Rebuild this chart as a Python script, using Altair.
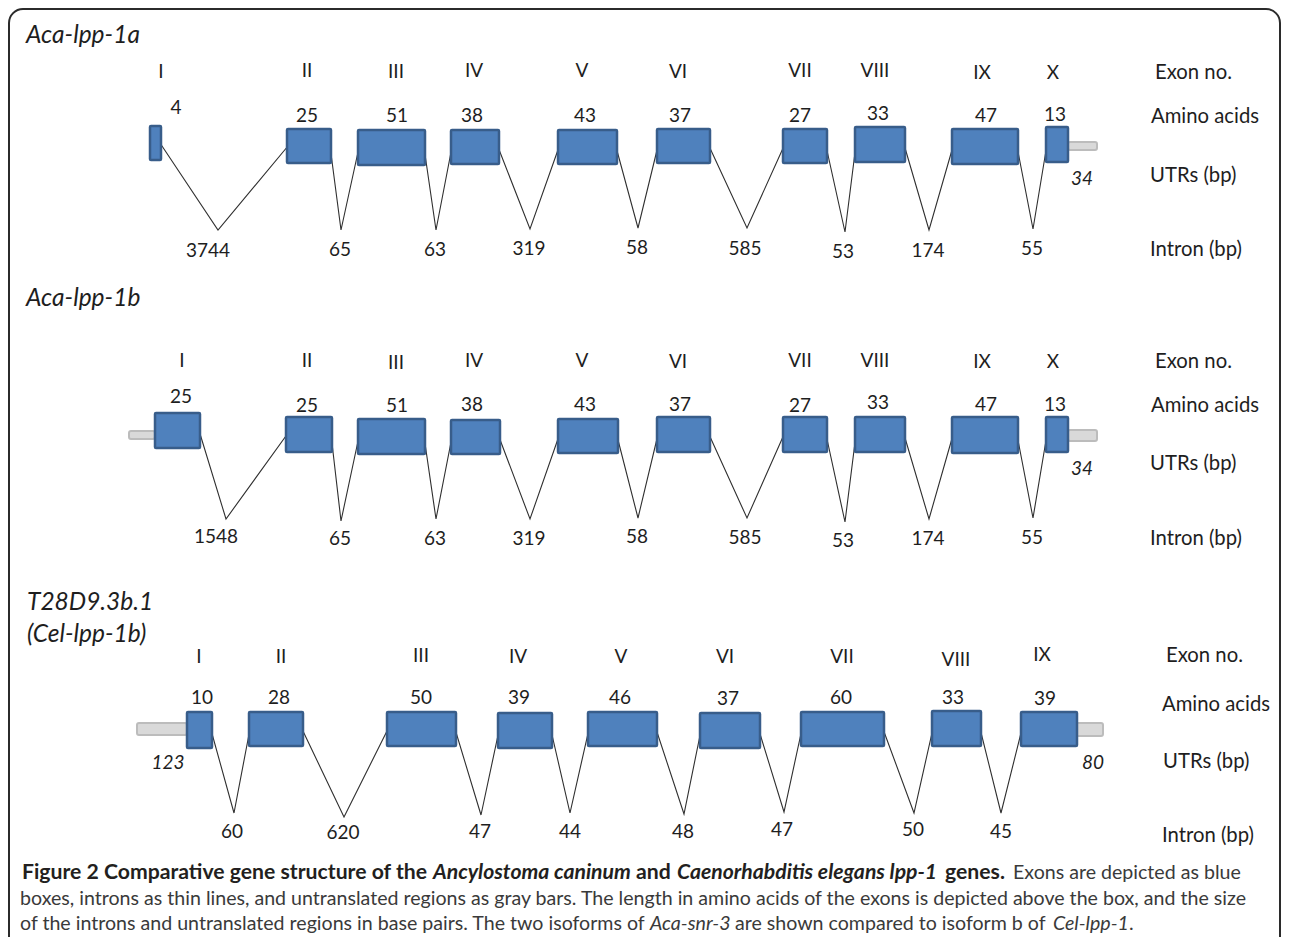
import altair as alt
import pandas as pd

# ---------------- data (diagram coordinates) ----------------
roman = ["I", "II", "III", "IV", "V", "VI", "VII", "VIII", "IX", "X"]

# Panel 1 : Aca-lpp-1a
p1_x0 = [150, 287, 358, 451, 558, 657, 783, 855, 952, 1046]
p1_x1 = [161, 331, 425, 499, 617, 710, 827, 905, 1018, 1068]
p1_y0 = [126, 129, 130, 130, 130, 129, 129, 127, 129, 127]
p1_y1 = [160, 163, 165, 164, 164, 163, 163, 162, 164, 162]
p1_aa = ["4", "25", "51", "38", "43", "37", "27", "33", "47", "13"]
p1_aa_x = [176, 307, 397, 472, 585, 680, 800, 878, 986, 1055]
p1_aa_y = [108, 116, 116, 116, 116, 116, 116, 114, 116, 115]
p1_num_x = [161, 307, 396, 474, 582, 678, 800, 875, 982, 1053]
p1_num_y = [72, 71, 72, 71, 71, 72, 71, 71, 73, 73]
p1_intron = ["3744", "65", "63", "319", "58", "585", "53", "174", "55"]
p1_vx = [218, 341, 436, 530, 638, 747, 845, 929, 1033]
p1_vy = [230, 230, 230, 229, 228, 228, 232, 230, 229]
p1_lx = [208, 340, 435, 529, 637, 745, 843, 928, 1032]
p1_ly = [251, 250, 250, 249, 248, 249, 252, 251, 249]

# Panel 2 : Aca-lpp-1b
p2_x0 = [155, 286, 358, 451, 558, 657, 783, 855, 952, 1046]
p2_x1 = [200, 332, 425, 500, 618, 710, 827, 905, 1018, 1068]
p2_y0 = [413, 417, 419, 420, 419, 417, 417, 417, 417, 417]
p2_y1 = [448, 452, 454, 454, 453, 452, 452, 452, 453, 452]
p2_aa = ["25", "25", "51", "38", "43", "37", "27", "33", "47", "13"]
p2_aa_x = [181, 307, 397, 472, 585, 680, 800, 878, 986, 1055]
p2_aa_y = [397, 406, 406, 405, 405, 405, 406, 403, 405, 405]
p2_num_x = [182, 307, 396, 474, 582, 678, 800, 875, 982, 1053]
p2_num_y = [361, 361, 363, 361, 361, 362, 361, 361, 362, 362]
p2_intron = ["1548", "65", "63", "319", "58", "585", "53", "174", "55"]
p2_vx = [226, 341, 436, 530, 638, 747, 845, 929, 1033]
p2_vy = [519, 521, 519, 519, 518, 518, 522, 519, 518]
p2_lx = [216, 340, 435, 529, 637, 745, 843, 928, 1032]
p2_ly = [537, 539, 539, 539, 537, 538, 541, 539, 538]

# Panel 3 : T28D9.3b.1 (Cel-lpp-1b)
p3_x0 = [187, 249, 387, 498, 588, 700, 801, 932, 1021]
p3_x1 = [212, 303, 456, 552, 657, 760, 884, 981, 1077]
p3_y0 = [712, 712, 712, 713, 712, 713, 712, 711, 712]
p3_y1 = [748, 746, 746, 748, 746, 748, 746, 746, 746]
p3_aa = ["10", "28", "50", "39", "46", "37", "60", "33", "39"]
p3_aa_x = [202, 279, 421, 519, 620, 728, 841, 953, 1045]
p3_aa_y = [698, 698, 698, 698, 698, 699, 698, 698, 699]
p3_num_x = [199, 281, 421, 518, 621, 725, 842, 956, 1042]
p3_num_y = [657, 657, 656, 657, 657, 657, 657, 660, 655]
p3_intron = ["60", "620", "47", "44", "48", "47", "50", "45"]
p3_vx = [234, 344, 481, 570, 684, 784, 914, 1001]
p3_vy = [813, 817, 815, 813, 814, 812, 813, 813]
p3_lx = [232, 343, 480, 570, 683, 782, 913, 1001]
p3_ly = [832, 833, 832, 832, 832, 830, 830, 832]

# UTR bars
utr_x0 = [1068, 129, 1068, 137, 1073]
utr_x1 = [1097, 155, 1097, 187, 1103]
utr_y0 = [142, 431, 430, 723, 723]
utr_y1 = [150, 439, 441, 735, 736]
utr_text = ["34", "34", "123", "80"]
utr_tx = [1082, 1082, 168, 1093]
utr_ty = [179, 469, 763, 763]

# Titles
titles = ["Aca-lpp-1a", "Aca-lpp-1b", "T28D9.3b.1", "(Cel-lpp-1b)"]
title_x = [26, 26, 27, 27]
title_y = [36, 299, 603, 635]

# Row labels on the right
row_labels = ["Exon no.", "Amino acids", "UTRs (bp)", "Intron (bp)"] * 3
row_x = [1155, 1151, 1150, 1150, 1155, 1151, 1150, 1150, 1166, 1162, 1163, 1162]
row_y = [73, 117, 176, 250, 362, 406, 464, 539, 656, 705, 762, 836]

# Caption segments
cap_bold = ["Figure 2 Comparative gene structure of the", "and", "genes."]
cap_bold_x = [22, 636, 945]
cap_bold_y = [873, 873, 873]
cap_bolditalic = ["Ancylostoma caninum", "Caenorhabditis elegans lpp-1"]
cap_bolditalic_x = [433, 677]
cap_bolditalic_y = [873, 873]
cap_reg = ["Exons are depicted as blue",
           "boxes, introns as thin lines, and untranslated regions as gray bars. The length in amino acids of the exons is depicted above the box, and the size",
           "of the introns and untranslated regions in base pairs. The two isoforms of",
           "are shown compared to isoform b of", "."]
cap_reg_x = [1013, 20, 20, 735, 1129]
cap_reg_y = [873, 899, 924, 924, 924]
cap_ital = ["Aca-snr-3", "Cel-lpp-1"]
cap_ital_x = [650, 1053]
cap_ital_y = [924, 924]

# ---------------- tables ----------------
panels = [
    (p1_x0, p1_x1, p1_y0, p1_y1, p1_aa, p1_aa_x, p1_aa_y, p1_num_x, p1_num_y, p1_intron, p1_vx, p1_vy, p1_lx, p1_ly),
    (p2_x0, p2_x1, p2_y0, p2_y1, p2_aa, p2_aa_x, p2_aa_y, p2_num_x, p2_num_y, p2_intron, p2_vx, p2_vy, p2_lx, p2_ly),
    (p3_x0, p3_x1, p3_y0, p3_y1, p3_aa, p3_aa_x, p3_aa_y, p3_num_x, p3_num_y, p3_intron, p3_vx, p3_vy, p3_lx, p3_ly),
]

exon_rows, line_rows, num_rows = [], [], []
for pi, (x0, x1, y0, y1, aa, aax, aay, nx, ny, intr, vx, vy, lx, ly) in enumerate(panels):
    for i in range(len(x0)):
        exon_rows.append({"x": x0[i], "x2": x1[i], "y": y0[i], "y2": y1[i]})
        num_rows.append({"t": aa[i], "x": aax[i], "y": aay[i]})
        num_rows.append({"t": roman[i], "x": nx[i], "y": ny[i]})
    for i in range(len(intr)):
        lid = f"{pi}-{i}"
        ya = (y0[i] + y1[i]) / 2
        yb = (y0[i + 1] + y1[i + 1]) / 2
        line_rows += [
            {"id": lid, "o": 0, "x": x1[i] - 1, "y": ya},
            {"id": lid, "o": 1, "x": vx[i], "y": vy[i]},
            {"id": lid, "o": 2, "x": x0[i + 1] + 1, "y": yb},
        ]
        num_rows.append({"t": intr[i], "x": lx[i], "y": ly[i]})

exons = pd.DataFrame(exon_rows)
lines = pd.DataFrame(line_rows)
nums = pd.DataFrame(num_rows)
rows = pd.DataFrame({"t": row_labels, "x": row_x, "y": row_y})
utrs = pd.DataFrame({"x": utr_x0, "x2": utr_x1, "y": utr_y0, "y2": utr_y1})
utr_lab = pd.DataFrame({"t": utr_text, "x": utr_tx, "y": utr_ty})
title_df = pd.DataFrame({"t": titles, "x": title_x, "y": title_y})
frame = pd.DataFrame({"x": [9], "x2": [1280], "y": [9], "y2": [990]})

XS = alt.Scale(domain=[8, 1282], nice=False, zero=False)
YS = alt.Scale(domain=[8, 937], nice=False, zero=False, reverse=True)
X = alt.X("x:Q", scale=XS, axis=None)
Y = alt.Y("y:Q", scale=YS, axis=None)

FONT = "Lato"
TXT = "#1e1e1e"

frame_l = alt.Chart(frame).mark_rect(fillOpacity=0, stroke="#2b2b2b", strokeWidth=2, cornerRadius=14).encode(
    x=X, x2="x2:Q", y=Y, y2="y2:Q")

line_l = alt.Chart(lines).mark_line(color="#2f2f2f", strokeWidth=1.1).encode(
    x=X, y=Y, detail="id:N", order="o:Q")

utr_l = alt.Chart(utrs).mark_rect(fill="#d9d9d9", stroke="#bcbcbc", strokeWidth=2, cornerRadius=2).encode(
    x=X, x2="x2:Q", y=Y, y2="y2:Q")

exon_l = alt.Chart(exons).mark_rect(fill="#4f81bd", stroke="#385d8a", strokeWidth=2.5, cornerRadius=1).encode(
    x=X, x2="x2:Q", y=Y, y2="y2:Q")

txt_c = alt.Chart(nums).mark_text(
    font=FONT, fontSize=19, color=TXT, align="center", baseline="middle").encode(x=X, y=Y, text="t:N")
txt_l = alt.Chart(rows).mark_text(
    font=FONT, fontSize=20.3, color=TXT, align="left", baseline="middle").encode(x=X, y=Y, text="t:N")
utr_t = alt.Chart(utr_lab).mark_text(
    font=FONT, fontSize=19, fontStyle="italic", color=TXT, align="center", baseline="middle").encode(x=X, y=Y, text="t:N")
title_t = alt.Chart(title_df).mark_text(
    font=FONT, fontSize=24.5, fontStyle="italic", color=TXT, align="left", baseline="middle").encode(x=X, y=Y, text="t:N")

CF = "Lato"
CS = 19.6
CB = 21.2
cb = alt.Chart(pd.DataFrame({"t": cap_bold, "x": cap_bold_x, "y": cap_bold_y})).mark_text(
    font=CF, fontSize=CB, fontWeight="bold", color="#231f20", align="left", baseline="middle").encode(x=X, y=Y, text="t:N")
cbi = alt.Chart(pd.DataFrame({"t": cap_bolditalic, "x": cap_bolditalic_x, "y": cap_bolditalic_y})).mark_text(
    font=CF, fontSize=CB, fontWeight="bold", fontStyle="italic", color="#231f20", align="left", baseline="middle").encode(x=X, y=Y, text="t:N")
cr = alt.Chart(pd.DataFrame({"t": cap_reg, "x": cap_reg_x, "y": cap_reg_y})).mark_text(
    font=CF, fontSize=CS, color="#3a3a3a", align="left", baseline="middle").encode(x=X, y=Y, text="t:N")
ci = alt.Chart(pd.DataFrame({"t": cap_ital, "x": cap_ital_x, "y": cap_ital_y})).mark_text(
    font=CF, fontSize=CS, fontStyle="italic", color="#3a3a3a", align="left", baseline="middle").encode(x=X, y=Y, text="t:N")

chart = alt.layer(frame_l, line_l, utr_l, exon_l, txt_c, txt_l, utr_t, title_t, cb, cbi, cr, ci).properties(
    width=1274, height=929, padding=0, autosize=alt.AutoSizeParams(type="none"), background="white"
).configure_view(stroke=None)

chart.save("out.html", embed_options={"renderer": "svg", "actions": False})
